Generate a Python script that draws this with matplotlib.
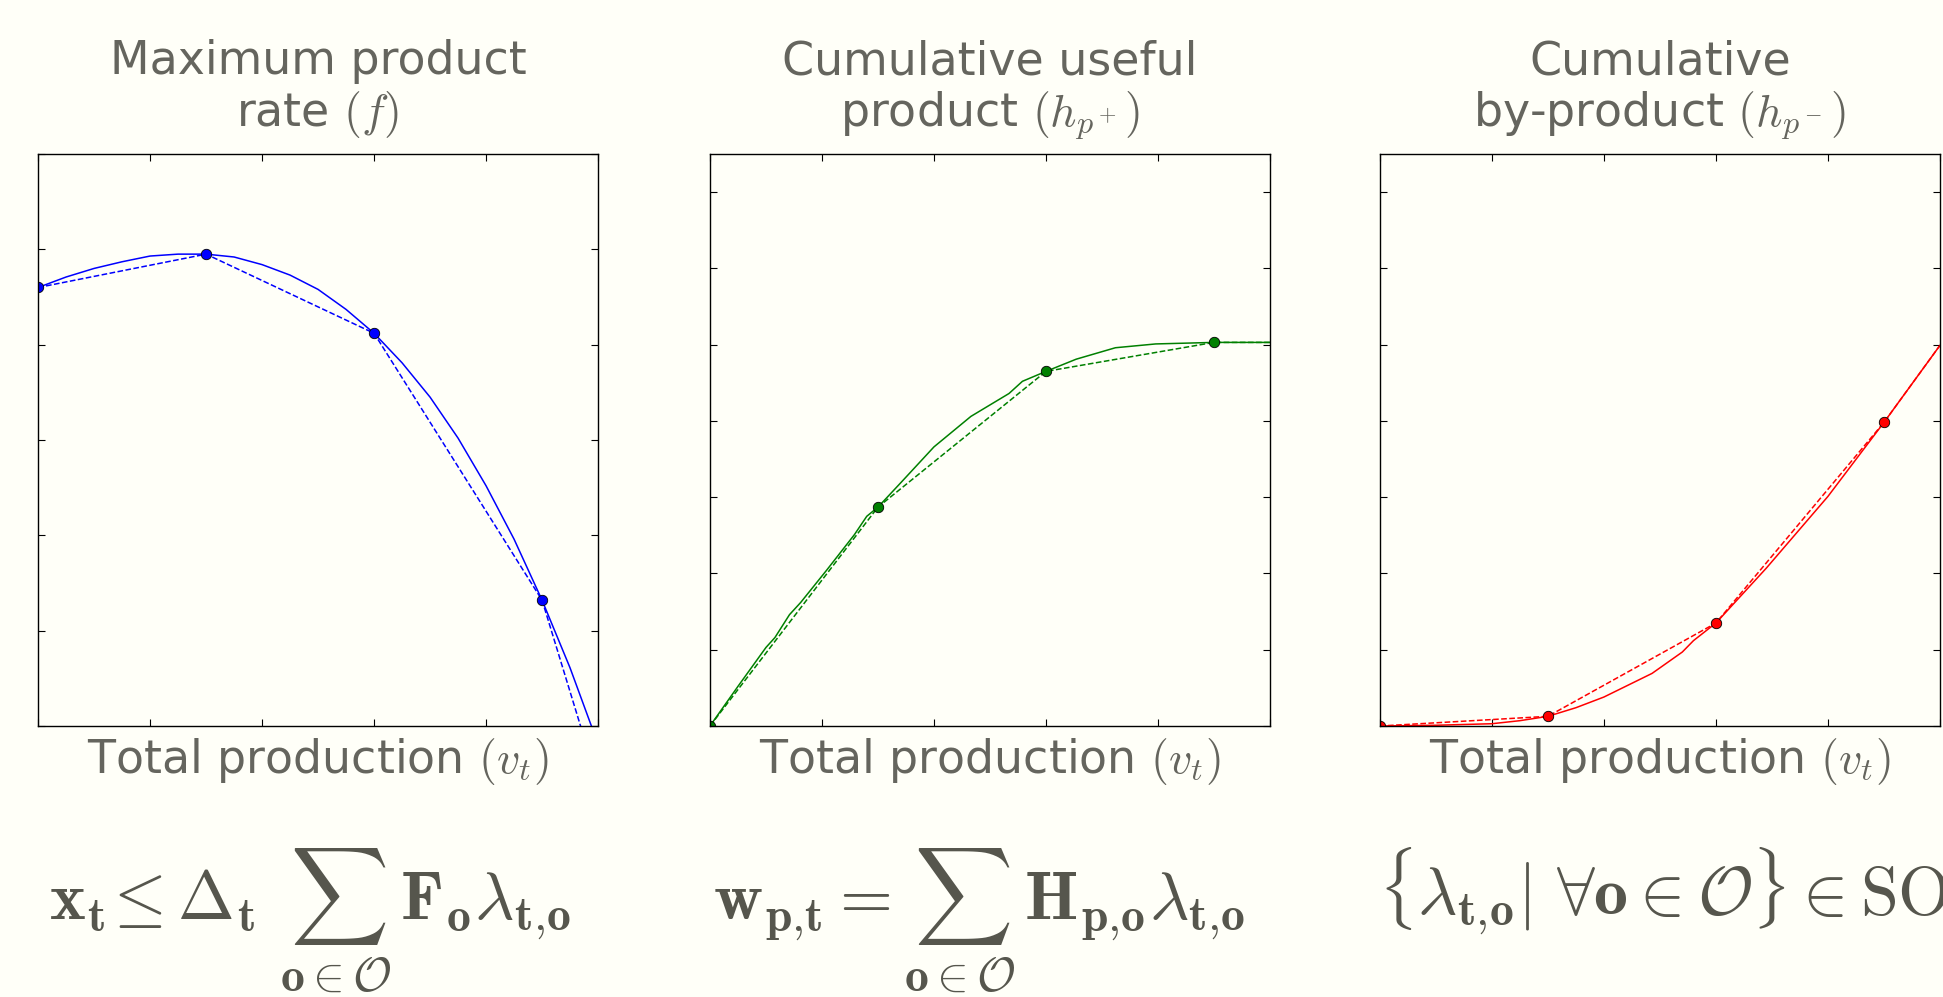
import matplotlib
matplotlib.use('Agg')
import matplotlib.pyplot as plt

# Panel 1: maximum product rate f
f_x = [0, 0.25, 0.5, 0.75, 1.0, 1.25, 1.5, 1.75, 2.0, 2.25, 2.5, 2.75,
       3.0, 3.25, 3.5, 3.75, 4.0, 4.25, 4.5, 4.75, 5.0]
f_y = [4.60, 4.71, 4.80, 4.87, 4.93, 4.95, 4.95, 4.92, 4.84, 4.73, 4.58, 4.37,
       4.12, 3.81, 3.45, 3.02, 2.52, 1.96, 1.32, 0.61, -0.19]
f_bx = [0, 1.5, 3.0, 4.5, 5.0]
f_by = [4.60, 4.95, 4.12, 1.32, -0.60]

# Panel 2: cumulative useful product h_p+
hp_x = [0, 0.25, 0.5, 0.58, 0.71, 0.81, 1.04, 1.29, 1.40, 1.5, 1.71, 2.0,
        2.33, 2.67, 2.79, 3.0, 3.27, 3.62, 3.98, 4.5, 5.0]
hp_y = [0, 0.52, 1.03, 1.16, 1.46, 1.62, 2.04, 2.51, 2.75, 2.87, 3.20, 3.66,
        4.06, 4.36, 4.52, 4.65, 4.81, 4.96, 5.01, 5.03, 5.03]
hp_bx = [0, 1.5, 3.0, 4.5, 5.0]
hp_by = [0, 2.87, 4.65, 5.03, 5.03]

# Panel 3: cumulative by-product h_p-
hm_x = [0, 0.5, 1.0, 1.25, 1.5, 1.75, 2.0, 2.43, 2.70, 2.80, 3.0, 3.45,
        4.0, 4.5, 5.0]
hm_y = [0, 0.01, 0.03, 0.07, 0.127, 0.24, 0.38, 0.69, 0.97, 1.12, 1.35, 2.07,
        3.01, 3.98, 4.99]
hm_bx = [0, 1.5, 3.0, 4.5, 5.0]
hm_by = [0, 0.127, 1.35, 3.98, 4.99]

titles = ['Maximum product\nrate $(f)$',
          'Cumulative useful\nproduct $(h_{p^+})$',
          'Cumulative\nby-product $(h_{p^-})$']
formulas = [r'$\mathbf{x_t}\!\leq\mathbf{\Delta_t}\ \sum_{\mathbf{o}\in\mathcal{O}}\,\mathbf{F_o}\lambda_{\mathbf{t{,}o}}$',
            r'$\mathbf{w_{p{,}t}}=\sum_{\mathbf{o}\in\mathcal{O}}\,\mathbf{H_{p{,}o}}\lambda_{\mathbf{t{,}o}}$',
            r'$\{\lambda_{\mathbf{t{,}o}}|\ \forall\mathbf{o}\in\mathcal{O}\}\in\mathrm{SOS2}$']

plt.rcParams['mathtext.fontset'] = 'cm'
bg = '#fffff8'
txt = '#65655e'
eq = '#56564d'

fig = plt.figure(figsize=(19.43, 9.97), dpi=100, facecolor=bg)

lefts = [0.0196, 0.3654, 0.7102]
series = [(f_x, f_y, f_bx, f_by, 'b', 6),
          (hp_x, hp_y, hp_bx, hp_by, 'g', 7.5),
          (hm_x, hm_y, hm_bx, hm_by, 'r', 7.5)]

for i, (x, y, bx, by, c, ymax) in enumerate(series):
    ax = fig.add_axes([lefts[i], 0.2718, 0.2882, 0.5737], facecolor=bg)
    ax.plot(x, y, '-', color=c, lw=1.1)
    ax.plot(bx, by, '--', color=c, lw=1.1)
    ax.plot(bx[:-1], by[:-1], 'o', color=c, ms=7.5, mec='k', mew=0.6)
    ax.set_xlim(0, 5)
    ax.set_ylim(0, ymax)
    ax.set_xticks(range(0, 6))
    ax.set_yticks(range(0, int(ymax) + 1))
    ax.tick_params(direction='in', length=5, top=True, right=True,
                   labelbottom=False, labelleft=False)
    for s in ax.spines.values():
        s.set_linewidth(1.0)
    ax.set_title(titles[i], fontsize=33, color=txt, pad=20, linespacing=1.15)
    ax.set_xlabel('Total production $(v_t)$', fontsize=33, color=txt, labelpad=7)

fig.text(310 / 1943, 1 - 846 / 997, formulas[0], fontsize=49, color=eq,
         ha='center', va='top')
fig.text(979 / 1943, 1 - 846 / 997, formulas[1], fontsize=49, color=eq,
         ha='center', va='top')
fig.text(1378 / 1943, 1 - 846 / 997, formulas[2], fontsize=49, color=eq,
         ha='left', va='top')

fig.savefig('out.png', dpi=100, facecolor=bg)
